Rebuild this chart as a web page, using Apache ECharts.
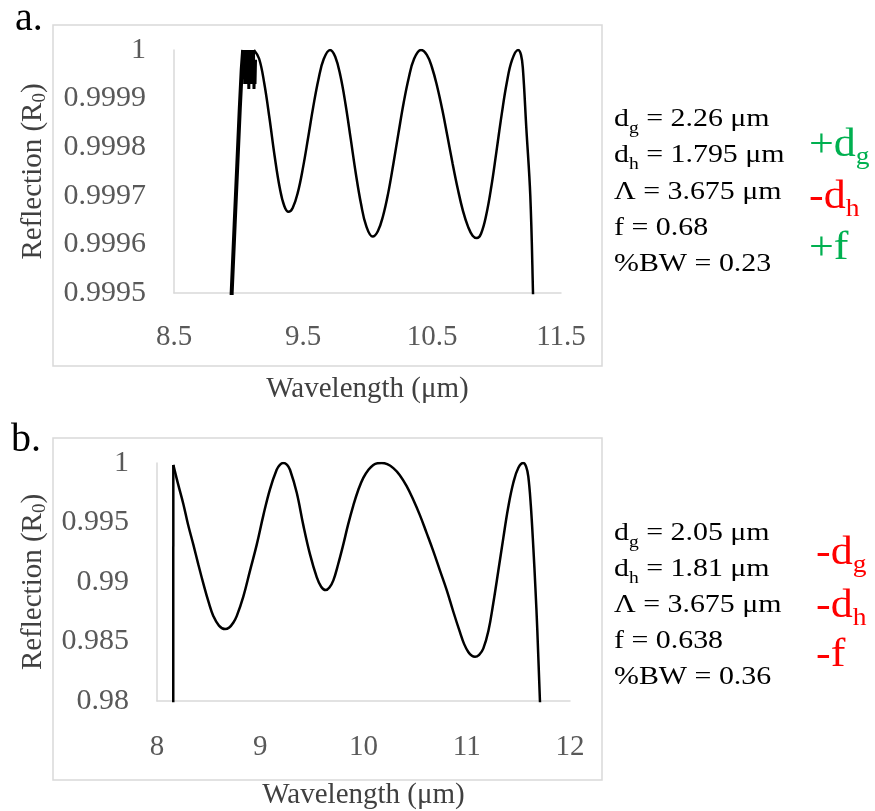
<!DOCTYPE html>
<html><head><meta charset="utf-8">
<script src="https://cdn.jsdelivr.net/npm/echarts@6/dist/echarts.min.js"></script>
<style>html,body{margin:0;padding:0;background:#fff}#chart{width:875px;height:811px}</style>
</head><body><div id="chart"></div>
<script>
// ---------- Panel a data ----------
const wlA = [9.12, 9.16, 9.20, 9.24, 9.28, 9.32, 9.355, 9.387, 9.42, 9.46, 9.50, 9.54, 9.58, 9.62, 9.66, 9.71, 9.75, 9.79, 9.83, 9.87, 9.91, 9.95, 9.99, 10.04, 10.08, 10.12, 10.16, 10.20, 10.24, 10.28, 10.32, 10.36, 10.414, 10.46, 10.50, 10.54, 10.58, 10.62, 10.66, 10.70, 10.74, 10.78, 10.815, 10.848, 10.88, 10.92, 10.96, 11.00, 11.04, 11.08, 11.12, 11.167, 11.19, 11.205, 11.231, 11.262, 11.283, 11.29];
const rA  = [1.0, 0.999982, 0.999931, 0.99986, 0.999782, 0.999716, 0.999679, 0.999667, 0.999675, 0.999707, 0.999758, 0.99982, 0.999884, 0.99994, 0.999981, 1.0, 0.999986, 0.999947, 0.999888, 0.999817, 0.999745, 0.999683, 0.999638, 0.999616, 0.999627, 0.999658, 0.999705, 0.999765, 0.999829, 0.999891, 0.999943, 0.999981, 1.0, 0.99999, 0.999964, 0.999925, 0.999877, 0.999822, 0.999766, 0.999714, 0.999669, 0.999636, 0.999618, 0.999613, 0.999622, 0.99966, 0.999719, 0.999792, 0.999867, 0.999933, 0.999979, 1.0, 0.99999, 0.99996, 0.99984, 0.9997, 0.9995, 0.9994];
// steep noisy rising edge of panel a
const wlAEdge = [8.944, 8.947, 8.97, 8.99, 9.01, 9.025, 9.036];
const rAEdge  = [0.9994, 0.9995, 0.99964, 0.99976, 0.99988, 0.99996, 1.0];
// noisy, clipped first peak of panel a
const wlANoise = [9.036, 9.040, 9.044, 9.048, 9.052, 9.056, 9.060, 9.064, 9.068, 9.072, 9.076, 9.080, 9.084, 9.088, 9.092, 9.096, 9.100, 9.104, 9.108, 9.112, 9.116, 9.120, 9.124, 9.128, 9.132];
const rANoise  = [1.0, 0.99994, 1.0, 0.99993, 1.0, 0.99995, 1.0, 0.99993, 1.0, 0.99994, 1.0, 0.99992, 1.0, 0.99995, 1.0, 0.99993, 1.0, 0.99994, 1.0, 0.99995, 1.0, 0.99992, 0.99996, 0.99993, 0.99998];

// ---------- Panel b data ----------
const wlBEdge = [8.157, 8.158];
const rBEdge  = [0.975, 0.99984];
const wlB = [8.158, 8.205, 8.255, 8.30, 8.352, 8.40, 8.449, 8.50, 8.546, 8.60, 8.659, 8.70, 8.74, 8.772, 8.836, 8.901, 8.966, 9.030, 9.094, 9.159, 9.19, 9.223, 9.26, 9.288, 9.353, 9.417, 9.482, 9.547, 9.59, 9.634, 9.67, 9.708, 9.755, 9.804, 9.85, 9.901, 9.95, 9.998, 10.05, 10.095, 10.135, 10.176, 10.23, 10.289, 10.35, 10.418, 10.48, 10.547, 10.61, 10.676, 10.74, 10.806, 10.87, 10.935, 10.975, 11.015, 11.05, 11.08, 11.12, 11.160, 11.21, 11.257, 11.305, 11.354, 11.40, 11.451, 11.50, 11.548, 11.575, 11.596, 11.62, 11.645, 11.665, 11.683, 11.709, 11.72];
const rB  = [0.99984, 0.9982, 0.99656, 0.99485, 0.99314, 0.99148, 0.98986, 0.9883, 0.98713, 0.98634, 0.98604, 0.98618, 0.9866, 0.98713, 0.98877, 0.99096, 0.99314, 0.9956, 0.99779, 0.99943, 0.99985, 1.0, 0.99985, 0.99943, 0.99752, 0.99478, 0.99232, 0.99041, 0.9896, 0.98932, 0.98954, 0.99014, 0.99151, 0.99314, 0.9948, 0.99642, 0.99775, 0.99875, 0.99945, 0.99984, 0.99998, 1.0, 0.9999, 0.99957, 0.999, 0.99806, 0.99695, 0.9956, 0.99415, 0.9926, 0.99098, 0.98932, 0.9875, 0.98576, 0.98478, 0.98412, 0.9838, 0.98371, 0.98388, 0.9844, 0.9859, 0.98822, 0.9909, 0.99369, 0.9962, 0.99834, 0.9996, 1.0, 0.9997, 0.99888, 0.9965, 0.99287, 0.9895, 0.98604, 0.98, 0.978];

// ---------- Text ----------
const panelLabels = ['a.', 'b.'];
const xTitle = 'Wavelength (μm)';
const yTitle = '{m|Reflection (R}{s|0}{m|)}';
const paramsA = ['{m|d}{s|g}{m| = 2.26 μm}', '{m|d}{s|h}{m| = 1.795 μm}', '{m|Λ = 3.675 μm}', '{m|f = 0.68}', '{m|%BW = 0.23}'];
const paramsB = ['{m|d}{s|g}{m| = 2.05 μm}', '{m|d}{s|h}{m| = 1.81 μm}', '{m|Λ = 3.675 μm}', '{m|f = 0.638}', '{m|%BW = 0.36}'];
const changesA = ['{m|+d}{s|g}', '{m|-d}{s|h}', '{m|+f}'];
const changesAColor = ['#00B050', '#FF0000', '#00B050'];
const changesB = ['{m|-d}{s|g}', '{m|-d}{s|h}', '{m|-f}'];
const changesBColor = ['#FF0000', '#FF0000', '#FF0000'];

const FONT = "'Liberation Serif', 'Times New Roman', serif";
const pairs = (xs, ys) => xs.map((x, i) => [x, ys[i]]);

const chart = echarts.init(document.getElementById('chart'), null, {renderer: 'canvas'});

function axisX(grid, min, max, interval, fmt, gap, margin) {
  return {
    type: 'value', gridIndex: grid, min, max, interval,
    axisLine: {show: true, onZero: false, lineStyle: {color: '#d9d9d9', width: 1.5}},
    axisTick: {show: false}, splitLine: {show: false},
    axisLabel: {color: '#595959', fontFamily: FONT, fontSize: 29, margin: margin, formatter: fmt},
    name: xTitle, nameLocation: 'middle', nameGap: gap,
    nameTextStyle: {color: '#404040', fontFamily: FONT, fontSize: 29}
  };
}
function axisY(grid, min, max, interval, fmt, gap) {
  return {
    type: 'value', gridIndex: grid, min, max, interval,
    axisLine: {show: true, lineStyle: {color: '#d9d9d9', width: 1.5}},
    axisTick: {show: false}, splitLine: {show: false},
    axisLabel: {color: '#595959', fontFamily: FONT, fontSize: 30, margin: 28, formatter: fmt},
    name: yTitle, nameLocation: 'middle', nameGap: gap, nameRotate: 90,
    nameTextStyle: {
      color: '#404040', fontFamily: FONT, fontSize: 29,
      rich: {
        m: {fontFamily: FONT, fontSize: 29, color: '#404040', lineHeight: 34},
        s: {fontFamily: FONT, fontSize: 19, color: '#404040', lineHeight: 17, verticalAlign: 'bottom'}
      }
    }
  };
}

function textLines(lines, x, ys, size, subSize, L, h, colors, sx) {
  return lines.map((t, i) => {
    const c = Array.isArray(colors) ? colors[i] : colors;
    return {
      type: 'text', x: x, y: ys[i], scaleX: sx, silent: true,
      style: {
        text: t, align: 'left', verticalAlign: 'middle', fill: c,
        font: size + 'px ' + FONT,
        rich: {
          m: {fontFamily: FONT, fontSize: size, fill: c, lineHeight: L},
          s: {fontFamily: FONT, fontSize: subSize, fill: c, lineHeight: h, verticalAlign: 'bottom'}
        }
      }
    };
  });
}

const graphics = [
  {type: 'rect', shape: {x: 53, y: 25, width: 549, height: 341}, style: {fill: 'none', stroke: '#d9d9d9', lineWidth: 1.5}, silent: true, z: -1},
  {type: 'rect', shape: {x: 53, y: 438, width: 549, height: 342}, style: {fill: 'none', stroke: '#d9d9d9', lineWidth: 1.5}, silent: true, z: -1},
  {type: 'text', x: 15, y: 19, style: {text: panelLabels[0], font: '40px ' + FONT, fill: '#000', align: 'left', verticalAlign: 'middle'}},
  {type: 'text', x: 11, y: 440, style: {text: panelLabels[1], font: '40px ' + FONT, fill: '#000', align: 'left', verticalAlign: 'middle'}}
]
.concat(textLines(paramsA, 614, [119, 155, 192, 228, 264], 26, 17, 36, 17, '#000', 1.15))
.concat(textLines(paramsB, 614, [533, 569, 605, 641, 677], 26, 17, 36, 17, '#000', 1.15))
.concat(textLines(changesA, 809, [145, 197, 248], 40, 25, 50, 24, changesAColor, 1.1))
.concat(textLines(changesB, 816, [553, 606, 655], 40, 25, 50, 24, changesBColor, 1.1));

const option = {
  animation: false,
  backgroundColor: '#fff',
  grid: [
    {left: 174, top: 50, width: 387, height: 243},
    {left: 157, top: 463, width: 413, height: 244}
  ],
  xAxis: [
    axisX(0, 8.5, 11.5, 0.5, v => (Math.round(v * 2) % 2 === 1 ? v.toFixed(1) : ''), 82, 30),
    axisX(1, 8, 12, 1, v => String(v), 80, 32)
  ],
  yAxis: [
    axisY(0, 0.9995, 1, 0.0001, v => String(+v.toFixed(4)), 124),
    axisY(1, 0.98, 1, 0.005, v => String(+v.toFixed(3)), 107)
  ],
  series: [
    {type: 'line', xAxisIndex: 0, yAxisIndex: 0, data: pairs(wlA, rA), smooth: 0.4, showSymbol: false, lineStyle: {color: '#000', width: 2.5}, clip: true},
    {type: 'line', xAxisIndex: 0, yAxisIndex: 0, data: pairs(wlAEdge, rAEdge), smooth: false, showSymbol: false, lineStyle: {color: '#000', width: 4}, clip: true},
    {type: 'line', xAxisIndex: 0, yAxisIndex: 0, data: pairs(wlANoise, rANoise), smooth: false, showSymbol: false, lineStyle: {color: '#000', width: 3}, clip: true},
    {type: 'line', xAxisIndex: 1, yAxisIndex: 1, data: pairs(wlBEdge, rBEdge), smooth: false, showSymbol: false, lineStyle: {color: '#000', width: 2.5}, clip: true},
    {type: 'line', xAxisIndex: 1, yAxisIndex: 1, data: pairs(wlB, rB), smooth: 0.4, showSymbol: false, lineStyle: {color: '#000', width: 2.5}, clip: true}
  ],
  graphic: graphics
};
chart.setOption(option);
</script>
</body></html>
